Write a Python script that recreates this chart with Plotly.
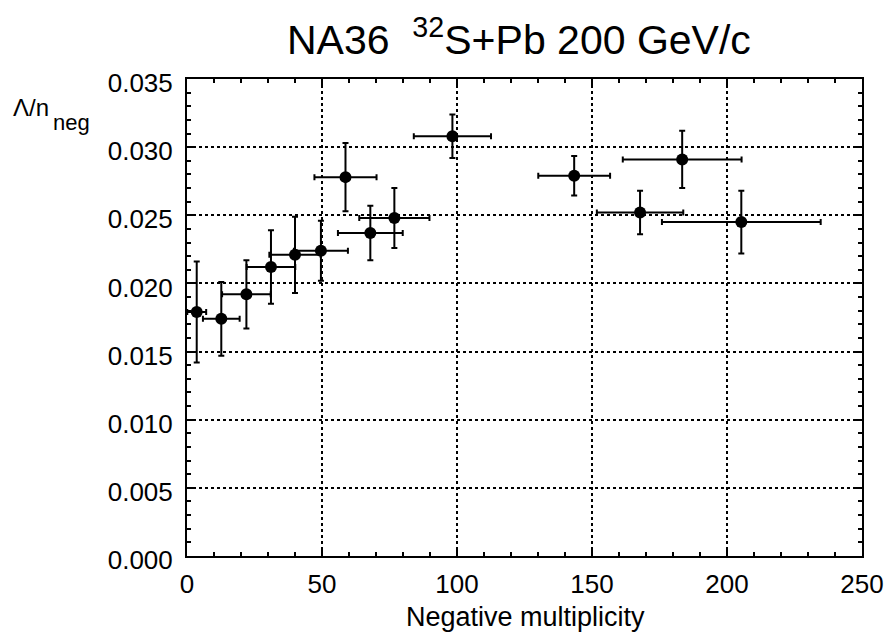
import plotly.graph_objects as go

# Data
mult = [3.6, 12.7, 22.0, 31.1, 40.0, 49.6, 58.7, 67.9, 76.8, 98.3, 143.4, 167.8, 183.4, 205.3]
mult_err = [3.5, 6.8, 9.0, 9.0, 9.5, 10.0, 11.5, 12.0, 13.0, 14.3, 13.3, 16.0, 22.0, 29.4]
ratio = [0.0179, 0.0174, 0.0192, 0.0212, 0.0221, 0.0224, 0.0278, 0.0237, 0.0248,
         0.0308, 0.0279, 0.0252, 0.0291, 0.0245]
ratio_err = [0.0037, 0.0027, 0.0025, 0.0027, 0.0028, 0.0022, 0.0025, 0.0020, 0.0022,
             0.0016, 0.00145, 0.0016, 0.0021, 0.0023]

x_ticks = [0, 50, 100, 150, 200, 250]
y_ticks = [0.000, 0.005, 0.010, 0.015, 0.020, 0.025, 0.030, 0.035]
y_labels = ["%.3f" % v for v in y_ticks]

FONT = "Arial, Liberation Sans, Helvetica, sans-serif"

# page geometry (the page body adds an 8px offset)
OFF = 8
PL, PR, PT, PB = 187, 862, 79, 556  # plot area in page pixels
W, H = 895 - OFF, 634 - OFF

fig = go.Figure()
fig.add_trace(go.Scatter(
    x=mult, y=ratio, mode="markers",
    marker=dict(color="black", size=12),
    error_x=dict(type="data", array=mult_err, color="black", thickness=2, width=3),
    error_y=dict(type="data", array=ratio_err, color="black", thickness=2, width=3),
    showlegend=False,
))

axis_common = dict(
    showline=True, linecolor="black", linewidth=2, mirror="allticks",
    ticks="inside", ticklen=8, tickwidth=1.5, tickcolor="black",
    showgrid=True, gridcolor="black", gridwidth=1.5, griddash="dot",
    zeroline=False, automargin=False,
)

fig.update_xaxes(
    range=[0, 250], tickvals=x_ticks, ticktext=[str(v) for v in x_ticks],
    tickfont=dict(family=FONT, size=26, color="black"),
    ticklabelstandoff=4,
    minor=dict(dtick=10, ticks="inside", ticklen=4, tickcolor="black", showgrid=False),
    **axis_common,
)
fig.update_yaxes(
    range=[0, 0.035], tickvals=y_ticks, ticktext=y_labels,
    tickfont=dict(family=FONT, size=26, color="black"),
    ticklabelshift=4, ticklabelstandoff=7,
    minor=dict(dtick=0.001, ticks="inside", ticklen=4, tickcolor="black", showgrid=False),
    **axis_common,
)

def px(xp):
    return (xp - PL) / (PR - PL)

def py(yp):
    return (PB - yp) / (PB - PT)

# chart title
fig.add_annotation(
    text="NA36  <sup>32</sup>S+Pb 200 GeV/c", xref="paper", yref="paper",
    x=px(519), y=py(37), xanchor="center", yanchor="middle", showarrow=False,
    font=dict(family=FONT, size=41, color="black"),
)
# x-axis title
fig.add_annotation(
    text="Negative multiplicity", xref="paper", yref="paper",
    x=px(525), y=py(617), xanchor="center", yanchor="middle", showarrow=False,
    font=dict(family=FONT, size=27, color="black"),
)
# y-axis title: "Λ/n" with a large subscript "neg"
fig.add_annotation(
    text="Λ/n", xref="paper", yref="paper",
    x=px(11), y=py(107), xanchor="left", yanchor="middle", showarrow=False,
    font=dict(family=FONT, size=24, color="black"),
)
fig.add_annotation(
    text="neg", xref="paper", yref="paper",
    x=px(51), y=py(122), xanchor="left", yanchor="middle", showarrow=False,
    font=dict(family=FONT, size=22, color="black"),
)

fig.update_layout(
    width=W, height=H,
    margin=dict(l=PL - OFF, r=W + OFF - PR, t=PT - OFF, b=H + OFF - PB),
    paper_bgcolor="white", plot_bgcolor="white",
)

fig.write_html("out.html")
